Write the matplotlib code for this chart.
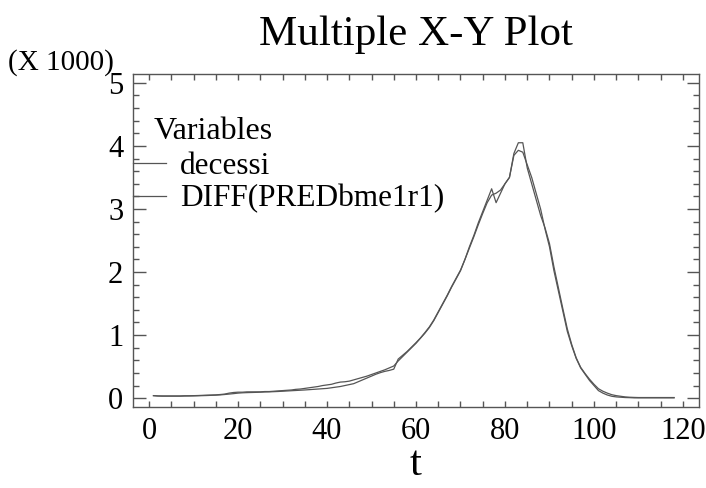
import numpy as np
import matplotlib.pyplot as plt
from matplotlib.ticker import MultipleLocator, FuncFormatter

# --- data ---
t = np.arange(1, 119)

decessi = [
    40, 35, 35, 35, 35, 35, 35, 38, 38, 40,
    42, 45, 48, 50, 52, 58, 65, 80, 90, 95,
    95, 100, 100, 100, 100, 105, 105, 110, 115, 120,
    125, 130, 140, 145, 155, 165, 175, 185, 200, 210,
    220, 240, 255, 260, 270, 290, 310, 330, 350, 375,
    400, 425, 450, 480, 510, 590, 660, 730, 800, 870,
    950, 1030, 1120, 1230, 1360, 1490, 1620, 1760, 1890, 2020,
    2200, 2400, 2580, 2780, 2960, 3140, 3320, 3100, 3250, 3400,
    3500, 3880, 4050, 4050, 3650, 3400, 3150, 2900, 2700, 2450,
    2080, 1750, 1420, 1100, 850, 640, 490, 390, 300, 220,
    150, 110, 80, 55, 40, 30, 20, 15, 12, 10,
    10, 10, 10, 10, 10, 10, 10, 10,
]

diff_pred = [
    40, 35, 32, 32, 32, 32, 32, 34, 35, 36,
    38, 40, 42, 45, 48, 52, 58, 65, 72, 80,
    85, 88, 90, 92, 95, 98, 100, 103, 106, 110,
    114, 118, 122, 126, 130, 135, 140, 145, 150, 155,
    165, 175, 185, 200, 215, 230, 260, 290, 320, 350,
    380, 405, 425, 440, 460, 620, 680, 740, 810, 880,
    955, 1040, 1130, 1240, 1370, 1500, 1630, 1770, 1900, 2030,
    2200, 2380, 2560, 2750, 2930, 3100, 3220, 3250, 3300, 3400,
    3500, 3850, 3930, 3900, 3700, 3500, 3250, 3000, 2680, 2400,
    2020, 1700, 1380, 1060, 830, 630, 480, 380, 280, 200,
    120, 80, 50, 30, 20, 15, 10, 8, 5, 5,
    5, 5, 5, 5, 5, 5, 5, 5,
]

labels = ['decessi', 'DIFF(PREDbme1r1)']

# --- plot ---
plt.rcParams['font.family'] = ['Liberation Serif', 'DejaVu Serif']

fig = plt.figure(figsize=(7.06, 4.88), dpi=100)
ax = fig.add_axes([133 / 706, 1 - 407 / 488, (699 - 133) / 706, (407 - 74) / 488])

ax.plot(t, decessi, color='#555555', linewidth=0.9, label=labels[0])
ax.plot(t, diff_pred, color='#555555', linewidth=0.9, label=labels[1])

ax.set_xlim(-3.6, 123.6)
ax.set_ylim(-140, 5140)

ax.xaxis.set_major_locator(MultipleLocator(20))
ax.xaxis.set_minor_locator(MultipleLocator(5))
ax.yaxis.set_major_locator(MultipleLocator(1000))
ax.yaxis.set_minor_locator(MultipleLocator(200))
ax.yaxis.set_major_formatter(FuncFormatter(lambda v, p: '%d' % round(v / 1000)))

ax.tick_params(axis='both', which='both', direction='in', colors='#555555',
               labelcolor='black', labelsize=22, width=1)
ax.tick_params(axis='x', which='both', top=True, length=4, pad=7)
ax.tick_params(axis='y', which='major', right=True, length=9, pad=7)
ax.tick_params(axis='y', which='minor', right=True, length=4.5)
for s in ax.spines.values():
    s.set_color('#555555')
    s.set_linewidth(1)

ax.set_title('Multiple X-Y Plot', fontsize=31, pad=21)
ax.set_xlabel('t', fontsize=31, labelpad=0)
fig.text(8 / 706, 1 - 63 / 488, '(X 1000)', fontsize=21, va='center', ha='left')

ax.text(0.036, 0.828, 'Variables', transform=ax.transAxes, fontsize=23,
        va='center', ha='left')
ax.legend(loc='upper left', bbox_to_anchor=(0.0, 0.765), frameon=False,
          fontsize=22.5, borderaxespad=0, borderpad=0, handlelength=1.05,
          handletextpad=0.45, labelspacing=0.1)

fig.savefig('out.png', dpi=100)
